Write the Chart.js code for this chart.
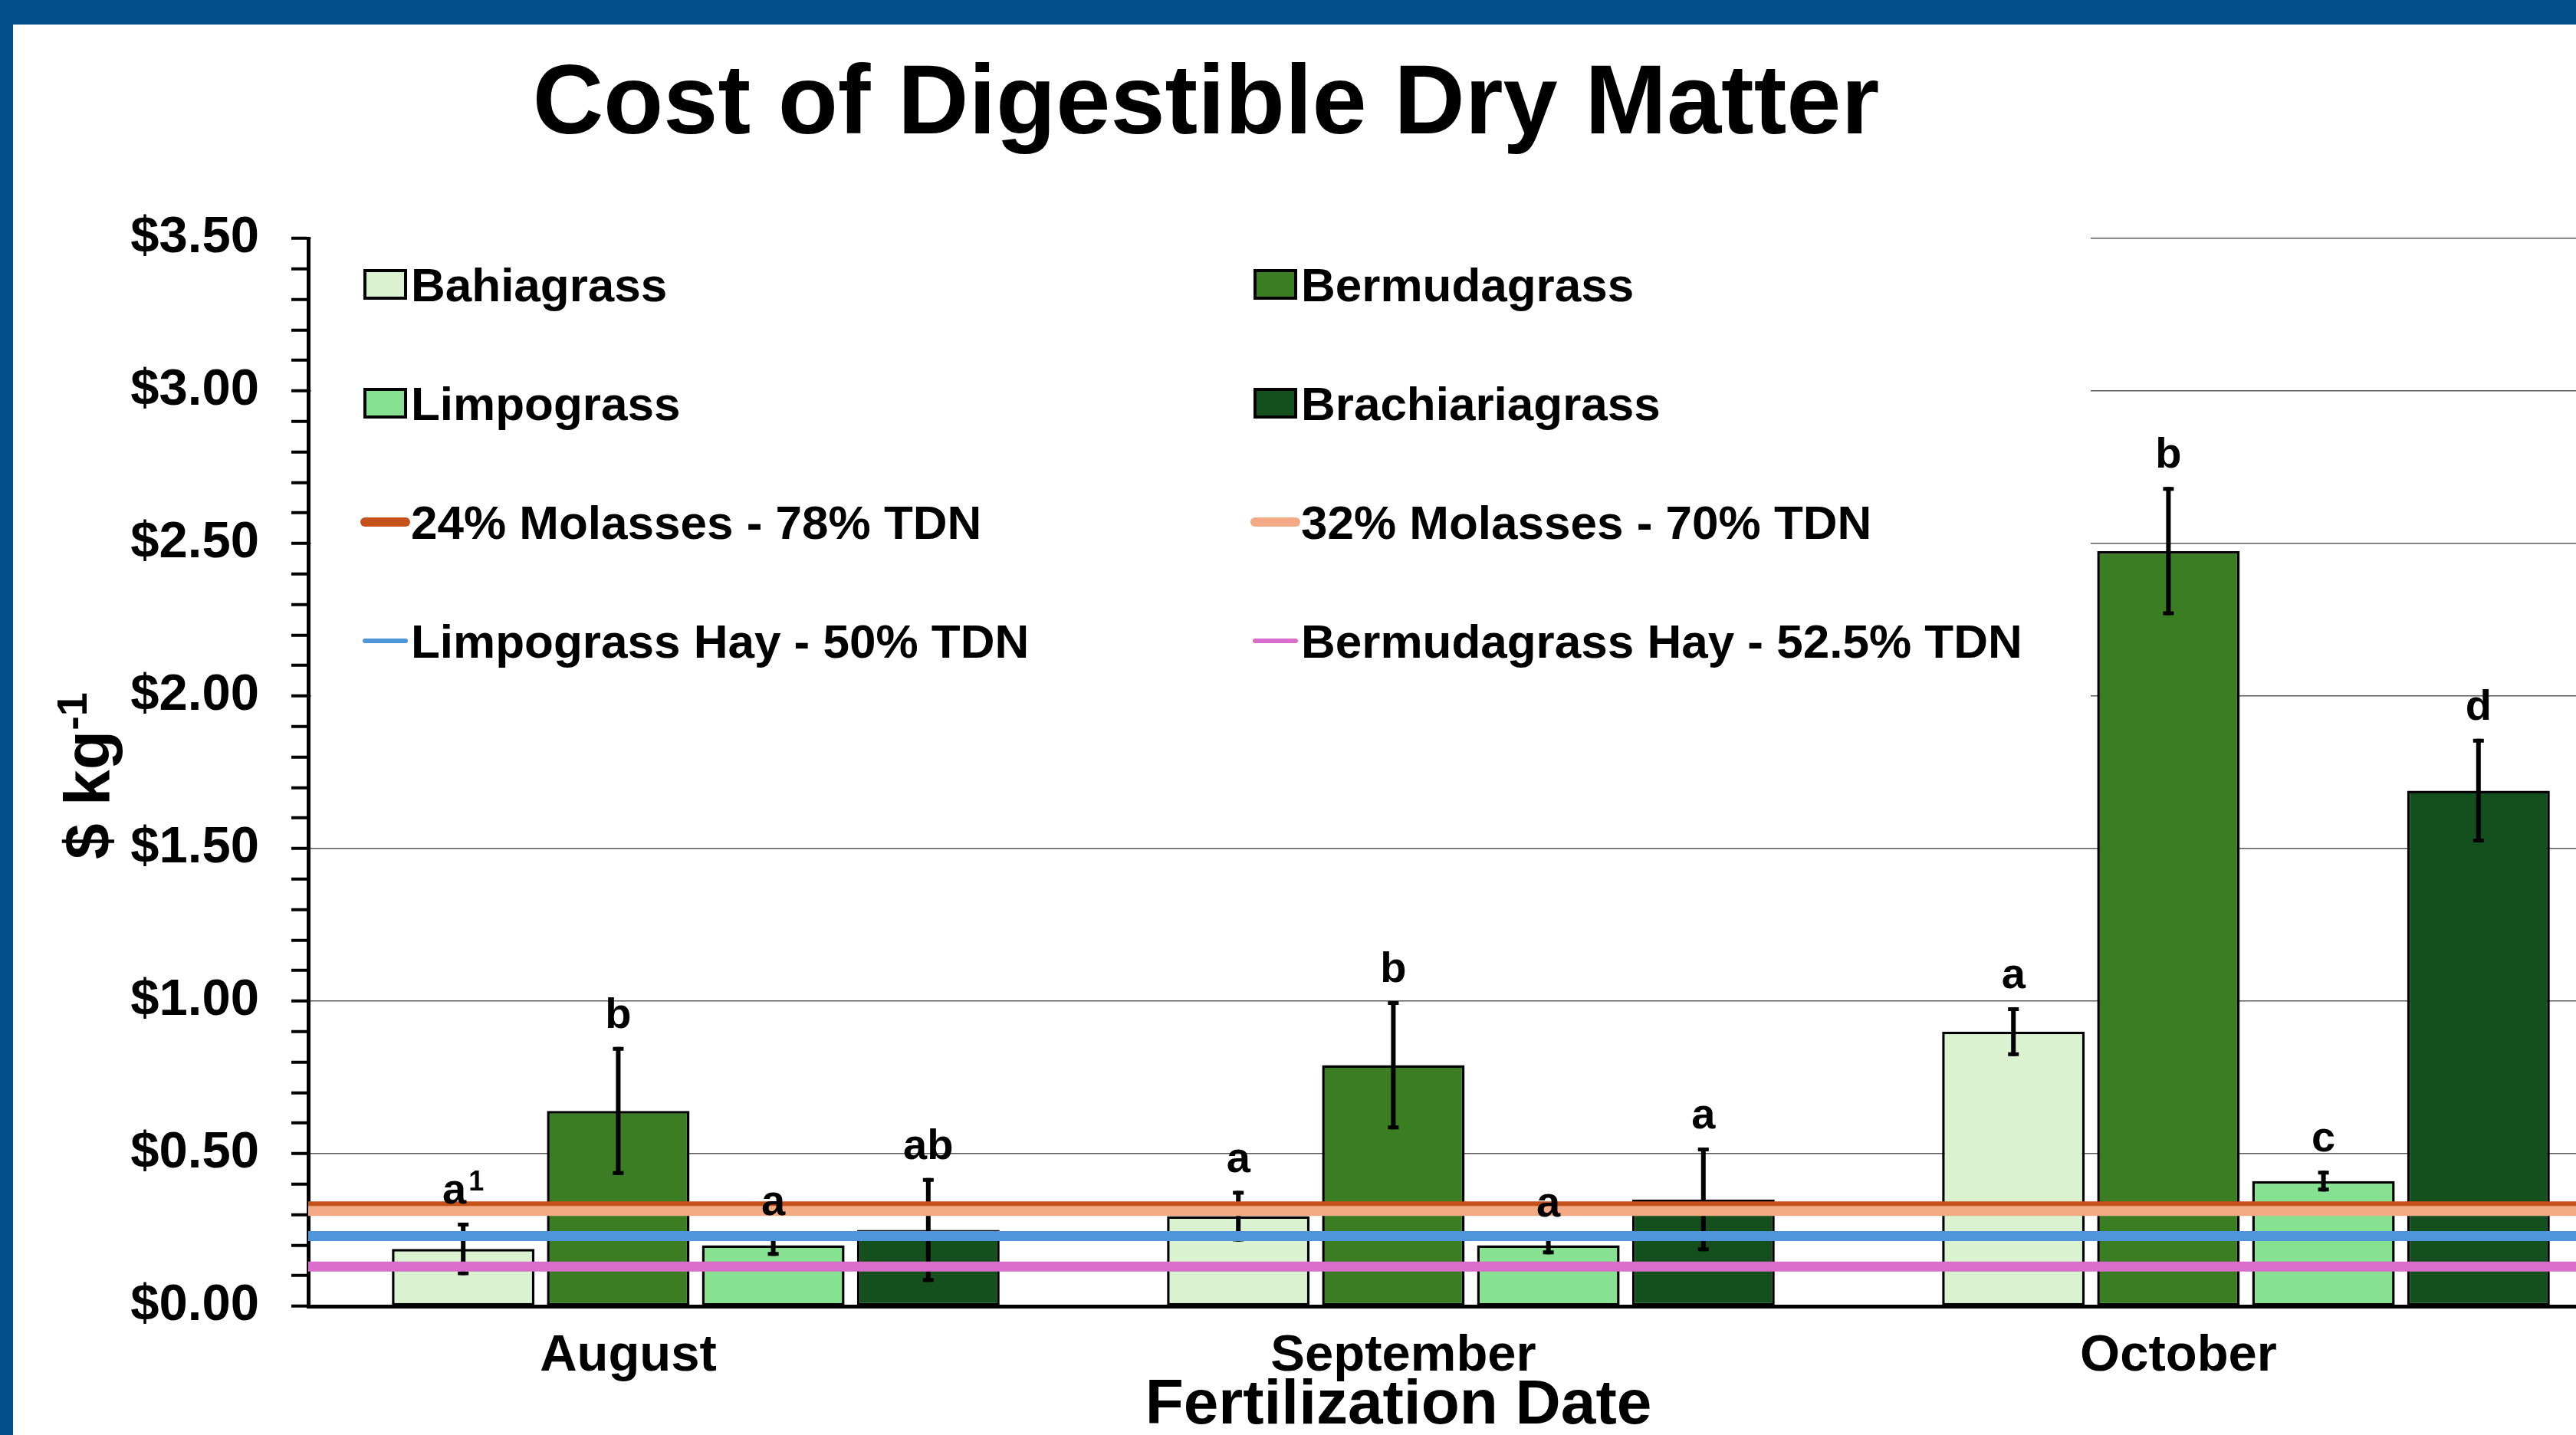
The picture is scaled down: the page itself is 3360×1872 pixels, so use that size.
<!DOCTYPE html>
<html>
<head>
<meta charset="utf-8">
<title>Cost of Digestible Dry Matter</title>
<script src="https://cdn.jsdelivr.net/npm/chart.js@4.4.1/dist/chart.umd.min.js"></script>
<style>
  html, body { margin: 0; padding: 0; background: #fff; overflow: hidden; }
  #wrap { position: relative; width: 3360px; height: 1872px; overflow: hidden; }
  #myChart { position: absolute; left: 0; top: 0; }
  .frame { position: absolute; background: #03508f; }
</style>
</head>
<body>
<div id="wrap">
  <canvas id="myChart" width="3450" height="1872"></canvas>
  <div class="frame" style="left:0;top:0;width:3360px;height:32px"></div>
  <div class="frame" style="left:0;top:0;width:17px;height:1872px"></div>
</div>
<script>
var months = ['August', 'September', 'October'];

// cost of digestible DM, $ per kg, with standard errors
var bahiagrass = [0.188, 0.295, 0.90];
var bahiagrassErr = [0.086, 0.083, 0.08];
var bermudagrass = [0.64, 0.79, 2.475];
var bermudagrassErr = [0.21, 0.21, 0.21];
var limpograss = [0.20, 0.20, 0.41];
var limpograssErr = [0.035, 0.03, 0.034];
var brachiariagrass = [0.25, 0.35, 1.69];
var brachiariagrassErr = [0.17, 0.17, 0.17];

// mean separation letters ("^1" = footnote mark)
var bahiagrassLetters = ['a^1', 'a', 'a'];
var bermudagrassLetters = ['b', 'b', 'b'];
var limpograssLetters = ['a', 'a', 'c'];
var brachiariagrassLetters = ['ab', 'a', 'd'];

// supplement / hay reference costs
var refLabels = ['24% Molasses - 78% TDN', '32% Molasses - 70% TDN',
                 'Limpograss Hay - 50% TDN', 'Bermudagrass Hay - 52.5% TDN'];
var refValues = [0.327, 0.312, 0.23, 0.13];

var yTickLabels = [0, 0.5, 1, 1.5, 2, 2.5, 3, 3.5];

var refColors = ['#c4521a', '#f2aa84', '#4e95d9', '#d86dcb'];

var FONT = "'Liberation Sans', Arial, sans-serif";
Chart.defaults.font.family = FONT;
Chart.defaults.color = '#000';

function isMajor(v) {
  return yTickLabels.some(function (t) { return Math.abs(t - v) < 1e-6; });
}

// error bars go right after each bar dataset
var errorBars = {
  id: 'errorBars',
  afterDatasetDraw: function (chart, args) {
    var ds = chart.data.datasets[args.index];
    if (!ds.errors) return;
    var y = chart.scales.y, c = chart.ctx;
    c.save();
    c.strokeStyle = '#000';
    args.meta.data.forEach(function (bar, i) {
      var top = y.getPixelForValue(ds.data[i] + ds.errors[i]);
      var bot = y.getPixelForValue(ds.data[i] - ds.errors[i]);
      c.lineWidth = 6;
      c.beginPath(); c.moveTo(bar.x, top); c.lineTo(bar.x, bot); c.stroke();
      c.lineWidth = 5;
      c.beginPath();
      c.moveTo(bar.x - 7, top + 2.5); c.lineTo(bar.x + 7, top + 2.5);
      c.moveTo(bar.x - 7, bot - 2.5); c.lineTo(bar.x + 7, bot - 2.5);
      c.stroke();
    });
    c.restore();
  }
};

// horizontal reference lines across the whole plot, over the bars
var refLines = {
  id: 'refLines',
  afterDatasetsDraw: function (chart) {
    var c = chart.ctx, a = chart.chartArea, y = chart.scales.y;
    c.save();
    c.beginPath();
    c.rect(a.left, a.top, a.right - a.left, a.bottom - a.top);
    c.clip();
    c.lineWidth = 13;
    c.lineCap = 'butt';
    refValues.forEach(function (v, i) {
      var py = y.getPixelForValue(v);
      c.strokeStyle = refColors[i];
      c.beginPath(); c.moveTo(a.left, py); c.lineTo(a.right, py); c.stroke();
    });
    c.restore();
  }
};

// legend sits inside the plot on a white box
var boxLegend = {
  id: 'boxLegend',
  beforeDatasetsDraw: function (chart) {
    var c = chart.ctx, a = chart.chartArea;
    var colX = [476, 1637];
    var lineW = [12, 12, 6, 6];
    var items = chart.data.datasets.map(function (ds) {
      return { label: ds.label, fill: ds.backgroundColor };
    });
    refLabels.forEach(function (l, i) {
      items.push({ label: l, line: refColors[i], w: lineW[i] });
    });
    c.save();
    c.fillStyle = '#fff';
    c.fillRect(a.left + 4, 296, 2727 - a.left - 4, 664);
    c.font = 'bold 62px ' + FONT;
    c.textBaseline = 'alphabetic';
    c.textAlign = 'left';
    items.forEach(function (it, i) {
      var x = colX[i % 2];
      var yc = 371 + Math.floor(i / 2) * 155;
      if (it.line) {
        c.strokeStyle = it.line;
        c.lineWidth = it.w;
        c.lineCap = 'round';
        c.beginPath(); c.moveTo(x, yc); c.lineTo(x + 53, yc); c.stroke();
      } else {
        c.fillStyle = it.fill;
        c.fillRect(x, yc - 18, 53, 36);
        c.strokeStyle = '#000';
        c.lineWidth = 4;
        c.strokeRect(x, yc - 18, 53, 36);
      }
      c.fillStyle = '#000';
      c.fillText(it.label, x + 60, yc + 22);
    });
    c.restore();
  }
};

var textLayer = {
  id: 'textLayer',
  afterDraw: function (chart) {
    var c = chart.ctx, y = chart.scales.y;
    c.save();
    c.fillStyle = '#000';

    // letters over the bars
    chart.data.datasets.forEach(function (ds, di) {
      if (!ds.letters) return;
      chart.getDatasetMeta(di).data.forEach(function (bar, i) {
        var base = y.getPixelForValue(ds.data[i] + ds.errors[i]) - 25;
        var parts = ds.letters[i].split('^');
        c.font = 'bold 56px ' + FONT;
        var w = c.measureText(parts[0]).width;
        var sw = 0;
        if (parts[1]) {
          c.font = 'bold 36px ' + FONT;
          sw = c.measureText(parts[1]).width + 3;
        }
        var x0 = bar.x - (w + sw) / 2;
        c.textAlign = 'left';
        c.textBaseline = 'alphabetic';
        c.font = 'bold 56px ' + FONT;
        c.fillText(parts[0], x0, base);
        if (parts[1]) {
          c.font = 'bold 36px ' + FONT;
          c.fillText(parts[1], x0 + w + 3, base - 17);
        }
      });
    });

    // chart title
    c.textAlign = 'center';
    c.textBaseline = 'alphabetic';
    c.font = 'bold 128px ' + FONT;
    c.fillText('Cost of Digestible Dry Matter', 1573, 174);

    // x axis title
    c.font = 'bold 82px ' + FONT;
    c.fillText('Fertilization Date', 1824, 1857);

    // y axis title with superscript
    c.translate(143, 1012);
    c.rotate(-Math.PI / 2);
    c.textAlign = 'left';
    c.font = 'bold 84px ' + FONT;
    var mainW = c.measureText('$ kg').width;
    c.font = 'bold 56px ' + FONT;
    var supW = c.measureText('-1').width;
    var x0 = -(mainW + supW) / 2;
    c.font = 'bold 84px ' + FONT;
    c.fillText('$ kg', x0, 0);
    c.font = 'bold 56px ' + FONT;
    c.fillText('-1', x0 + mainW, -30);
    c.restore();
  }
};

function barSet(label, data, errors, letters, color) {
  return {
    label: label,
    data: data,
    errors: errors,
    letters: letters,
    backgroundColor: color,
    borderColor: '#000',
    borderWidth: 3.5,
    borderSkipped: false
  };
}

var ctx = document.getElementById('myChart').getContext('2d');

var myChart = new Chart(ctx, {
  type: 'bar',
  data: {
    labels: months,
    datasets: [
      barSet('Bahiagrass', bahiagrass, bahiagrassErr, bahiagrassLetters, '#daf2d0'),
      barSet('Bermudagrass', bermudagrass, bermudagrassErr, bermudagrassLetters, '#3b7d23'),
      barSet('Limpograss', limpograss, limpograssErr, limpograssLetters, '#86e290'),
      barSet('Brachiariagrass', brachiariagrass, brachiariagrassErr, brachiariagrassLetters, '#14501e')
    ]
  },
  options: {
    responsive: false,
    animation: false,
    devicePixelRatio: 1,
    categoryPercentage: 0.8,
    barPercentage: 0.92,
    layout: { padding: { top: 311, right: 15, left: 0, bottom: 0 } },
    plugins: {
      legend: { display: false },
      title: { display: false },
      tooltip: { enabled: false }
    },
    scales: {
      x: {
        grid: { display: false, drawTicks: false },
        border: { display: true, color: '#000', width: 5 },
        ticks: {
          color: '#000',
          font: { size: 67, weight: 'bold' },
          padding: 25,
          labelOffset: -88,
          maxRotation: 0,
          autoSkip: false
        },
        afterFit: function (s) { s.height = 168; }
      },
      y: {
        min: 0,
        max: 3.5,
        grid: {
          color: function (c) {
            return c.tick && c.tick.value > 0 && isMajor(c.tick.value) ? '#595959' : 'rgba(0,0,0,0)';
          },
          lineWidth: 1.5,
          tickColor: '#000',
          tickLength: 22,
          tickWidth: 4
        },
        border: { display: true, color: '#000', width: 5 },
        ticks: {
          stepSize: 0.1,
          autoSkip: false,
          color: '#000',
          font: { size: 67, weight: 'bold' },
          padding: 42,
          callback: function (v) {
            return isMajor(v) ? '$' + Number(v).toFixed(2) : '';
          }
        },
        afterFit: function (s) { s.width = 402; }
      }
    }
  },
  plugins: [errorBars, refLines, boxLegend, textLayer]
});
</script>
</body>
</html>
